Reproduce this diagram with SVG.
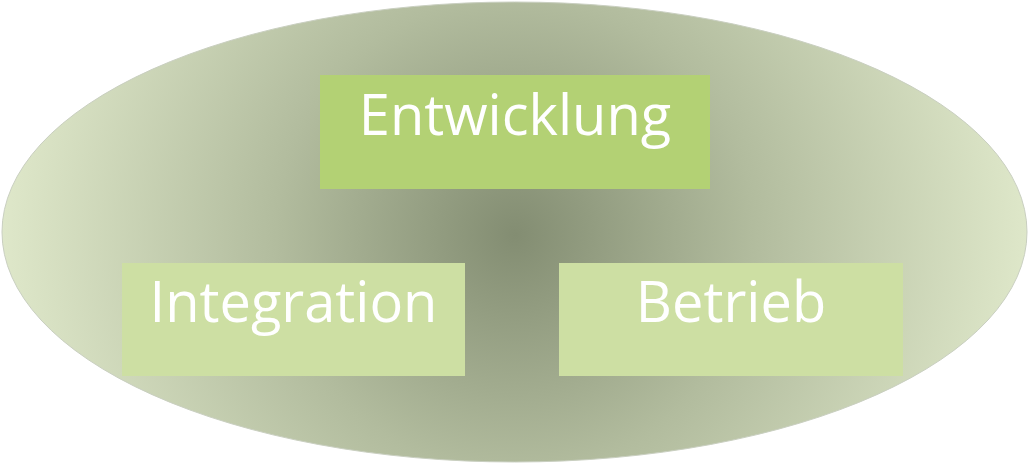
<svg xmlns="http://www.w3.org/2000/svg" width="1029" height="464" viewBox="0 0 1029 464">
<style>
.lbl{font-family:"Open Sans","Noto Sans",sans-serif;font-size:56px;fill:#ffffff;text-anchor:middle}
</style>
<defs>
<radialGradient id="bg" gradientUnits="userSpaceOnUse" cx="515" cy="235" r="530">
<stop offset="0" stop-color="#838d72"/>
<stop offset="0.45" stop-color="#b2bc9e"/>
<stop offset="1" stop-color="#e1eacc"/>
</radialGradient>
</defs>
<g id="background">
<ellipse cx="514.5" cy="232" rx="512.5" ry="230" fill="url(#bg)" stroke="#c9cfc0" stroke-width="1"/>
</g>
<g id="connectors"></g>
<g id="entwicklung">
<rect x="320" y="75" width="390" height="114" fill="#b3d174"/>
<text class="lbl" x="515" y="135">Entwicklung</text>
</g>
<g id="integration">
<rect x="122" y="263" width="343" height="113" fill="#cddfa3"/>
<text class="lbl" x="293.5" y="322">Integration</text>
</g>
<g id="betrieb">
<rect x="559" y="263" width="344" height="113" fill="#cddfa3"/>
<text class="lbl" x="731" y="322">Betrieb</text>
</g>
</svg>
